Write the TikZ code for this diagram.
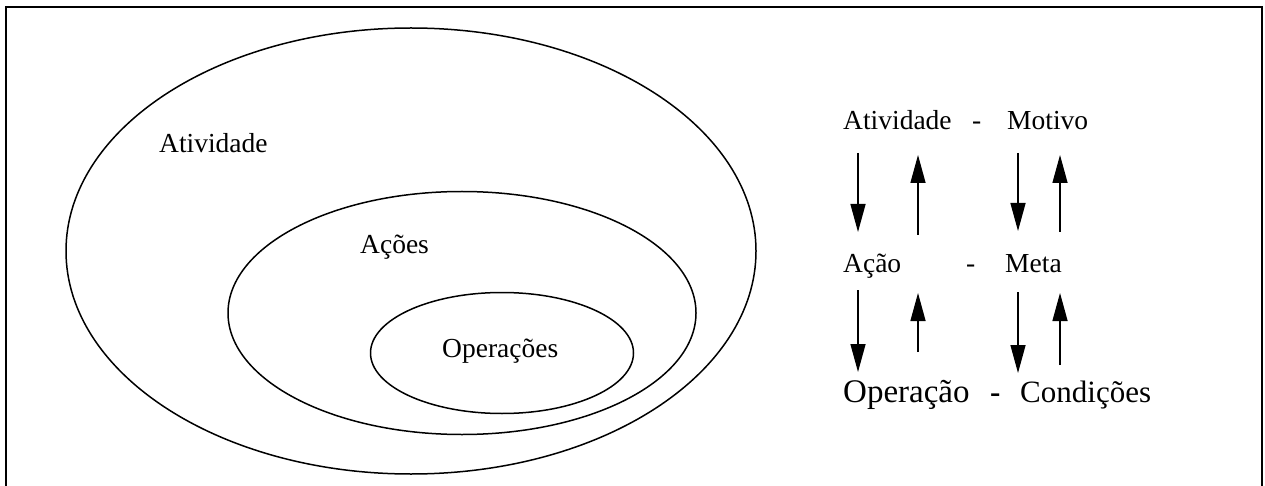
\documentclass[tikz,border=0pt]{standalone}
\usepackage{fontspec}
\setmainfont{Liberation Serif}
\usetikzlibrary{arrows.meta,shapes.geometric}
\begin{document}
\begin{tikzpicture}[x=1pt,y=-1pt,
  lbl/.style={inner sep=0pt, anchor=base west, font=\fontsize{27.5}{30}\selectfont},
  big/.style={inner sep=0pt, anchor=base west, font=\fontsize{31}{34}\selectfont},
  ring/.style={draw, ellipse, inner sep=0pt, line width=1.5pt},
  flow/.style={line width=1.4pt, -{Triangle[length=28pt,width=15pt]}}]
\useasboundingbox (0,0) rectangle (1265,486);
\fill[white] (0,0) rectangle (1265,486);
% frame (open at the bottom)
\draw[line width=2pt] (6,486) -- (6,7) -- (1262,7) -- (1262,486);

% nested levels
\node[ring, minimum width=690pt, minimum height=446pt] (act) at (411,251) {};
\node[ring, minimum width=468pt, minimum height=243pt] (acs) at (462,313) {};
\node[ring, minimum width=263pt, minimum height=121pt] (ops) at (502,353) {};
\node[lbl] (tact) at (159,153) {Atividade};
\node[lbl] (tacs) at (360,253) {Ações};
\node[lbl] (tops) at (442,357) {Operações};

% levels and their correspondences
\node[lbl] (ra) at (843,130) {Atividade};
\node[lbl] (rad) at (972,130) {-};
\node[lbl] (rm) at (1007,130) {Motivo};
\node[lbl] (rb) at (843,272) {Ação};
\node[lbl] (rbd) at (966,272) {-};
\node[lbl] (rmt) at (1005,272) {Meta};
\node[big, font=\fontsize{33}{36}\selectfont] (rc) at (843,402) {Operação};
\node[big] (rcd) at (990,402) {\textbf{-}};
\node[big] (rcn) at (1020,402) {Condições};

% arrows between the rows
\coordinate (a1) at (858,153); \coordinate (a2) at (858,232);
\coordinate (b1) at (918,235); \coordinate (b2) at (918,155);
\coordinate (c1) at (1018,153); \coordinate (c2) at (1018,231);
\coordinate (d1) at (1060,232); \coordinate (d2) at (1060,155);
\coordinate (e1) at (858,290); \coordinate (e2) at (858,372);
\coordinate (f1) at (918,352); \coordinate (f2) at (918,293);
\coordinate (g1) at (1018,292); \coordinate (g2) at (1018,373);
\coordinate (h1) at (1060,365); \coordinate (h2) at (1060,293);
\draw[flow] (a1) -- (a2);
\draw[flow] (b1) -- (b2);
\draw[flow] (c1) -- (c2);
\draw[flow] (d1) -- (d2);
\draw[flow] (e1) -- (e2);
\draw[flow] (f1) -- (f2);
\draw[flow] (g1) -- (g2);
\draw[flow] (h1) -- (h2);
\end{tikzpicture}
\end{document}
